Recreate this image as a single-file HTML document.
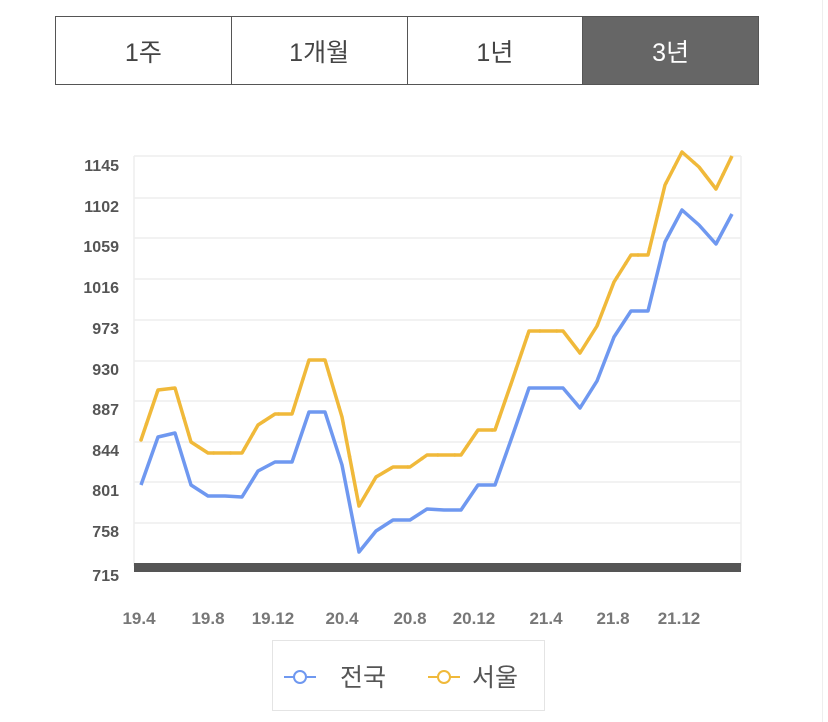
<!DOCTYPE html><html><head><meta charset="utf-8"><style>
body{margin:0;width:828px;height:722px;background:#fff;font-family:"Liberation Sans","Noto Sans CJK KR",sans-serif;overflow:hidden;position:relative}
.tabs{position:absolute;left:55px;top:16px;width:704px;height:69px;display:flex;border:1px solid #555;box-sizing:border-box}
.tabs div{flex:1;display:flex;align-items:center;justify-content:center;font-size:25px;color:#444;border-right:1px solid #555}
.tabs div:last-child{border-right:none;background:#666;color:#fff}
</style></head><body>
<div class="tabs"><div>1주</div><div>1개월</div><div>1년</div><div>3년</div></div>
<div style="position:absolute;left:822px;top:0;width:1px;height:722px;background:#eee"></div>
<svg width="828" height="722" style="position:absolute;left:0;top:0">
<g stroke="#eee" stroke-width="1.5">
<line x1="134" x2="741" y1="156" y2="156"/><line x1="134" x2="741" y1="198" y2="198"/><line x1="134" x2="741" y1="238" y2="238"/><line x1="134" x2="741" y1="279" y2="279"/><line x1="134" x2="741" y1="320" y2="320"/><line x1="134" x2="741" y1="361" y2="361"/><line x1="134" x2="741" y1="401" y2="401"/><line x1="134" x2="741" y1="442" y2="442"/><line x1="134" x2="741" y1="482" y2="482"/><line x1="134" x2="741" y1="523" y2="523"/>
<line x1="134" x2="134" y1="156" y2="566"/><line x1="741" x2="741" y1="156" y2="566"/>
</g>
<rect x="134" y="563" width="607" height="9" fill="#555"/>
<g font-size="16" font-weight="bold" fill="#555" text-anchor="end">
<text x="119" y="171">1145</text><text x="119" y="212">1102</text><text x="119" y="252">1059</text><text x="119" y="293">1016</text><text x="119" y="334">973</text><text x="119" y="375">930</text><text x="119" y="415">887</text><text x="119" y="456">844</text><text x="119" y="496">801</text><text x="119" y="537">758</text><text x="119" y="581">715</text>
</g>
<g font-size="17" font-weight="bold" fill="#777" text-anchor="middle">
<text x="139" y="624">19.4</text><text x="208" y="624">19.8</text><text x="273" y="624">19.12</text><text x="342" y="624">20.4</text><text x="410" y="624">20.8</text><text x="474" y="624">20.12</text><text x="546" y="624">21.4</text><text x="613" y="624">21.8</text><text x="679" y="624">21.12</text>
</g>
<polyline fill="none" stroke="#f0b93a" stroke-width="3.5" stroke-linejoin="round" stroke-linecap="round" stroke-dasharray="0.1 16.8" points="141,440 158,390 175,388 191,442 208,453 225,453 242,453 258,425 275,414 292,414 309,360 325,360 342,417 359,506 376,477 393,467 410,467 427,455 444,455 461,455 478,430 495,430 512,381 529,331 546,331 563,331 580,353 597,326 614,282 631,255 648,255 665,185 682,152 699,167 716,189 732,156"/>
<polyline fill="none" stroke="#f0b93a" stroke-width="3.5" stroke-linejoin="round" points="141,440 158,390 175,388 191,442 208,453 225,453 242,453 258,425 275,414 292,414 309,360 325,360 342,417 359,506 376,477 393,467 410,467 427,455 444,455 461,455 478,430 495,430 512,381 529,331 546,331 563,331 580,353 597,326 614,282 631,255 648,255 665,185 682,152 699,167 716,189 732,156"/>
<polyline fill="none" stroke="#6f98f0" stroke-width="3.5" stroke-linejoin="round" points="141,485 158,437 175,433 191,485 208,496 225,496 242,497 258,471 275,462 292,462 309,412 325,412 342,465 359,552 376,531 393,520 410,520 427,509 444,510 461,510 478,485 495,485 512,437 529,388 546,388 563,388 580,408 597,381 614,337 631,311 648,311 665,242 682,210 699,225 716,244 732,214"/>
<rect x="272.5" y="640.5" width="272" height="70" fill="none" stroke="#e4e4e4"/>
<line x1="284" x2="316" y1="677" y2="677" stroke="#6f98f0" stroke-width="2"/><circle cx="300" cy="677" r="6" fill="#fff" stroke="#6f98f0" stroke-width="2"/>
<text x="340" y="686" font-size="25" fill="#555">전국</text>
<line x1="428" x2="460" y1="677" y2="677" stroke="#f0b93a" stroke-width="2"/><circle cx="444" cy="677" r="6" fill="#fff" stroke="#f0b93a" stroke-width="2"/>
<text x="472" y="686" font-size="25" fill="#555">서울</text>
</svg>
</body></html>
